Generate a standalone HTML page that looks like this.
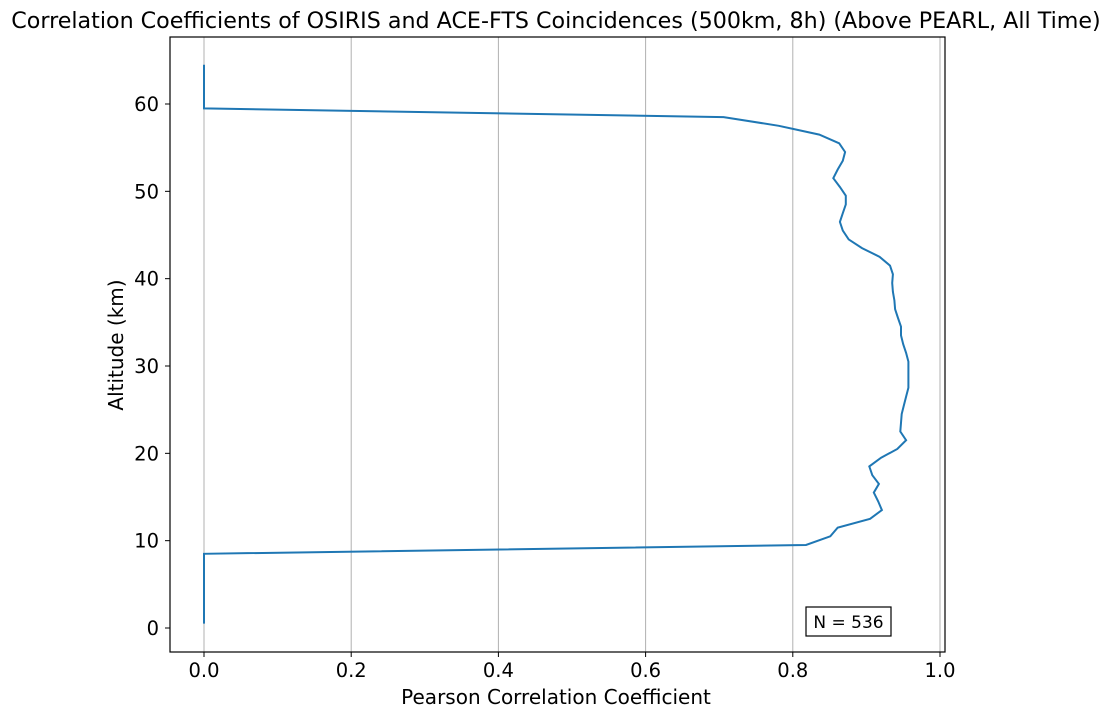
<!DOCTYPE html>
<html><head><meta charset="utf-8"><style>
body{margin:0;background:#fff;}
svg text{font-family:"DejaVu Sans","Liberation Sans",sans-serif;fill:#000;}
</style></head><body>
<svg id="chart" width="1112" height="717">
<rect width="1112" height="717" fill="#fff"/>
<text x="556" y="28" font-size="22.2" text-anchor="middle">Correlation Coefficients of OSIRIS and ACE-FTS Coincidences (500km, 8h) (Above PEARL, All Time)</text>
<g id="grid"></g>
<g id="ticks"></g>
<path id="line" fill="none" stroke="#1f77b4" stroke-width="2"/>
<rect x="170" y="37" width="775" height="615" fill="none" stroke="#000" stroke-width="1.2"/>
<rect x="806" y="607" width="85" height="29" fill="#fff" stroke="#000" stroke-width="1.2"/>
<text x="848.5" y="628" font-size="17" text-anchor="middle">N = 536</text>
<text x="556" y="704" font-size="20" text-anchor="middle">Pearson Correlation Coefficient</text>
<text x="0" y="0" font-size="20" text-anchor="middle" transform="translate(123,345) rotate(-90)">Altitude (km)</text>
</svg>
<script>
const altitudes=[0.5,1.5,2.5,3.5,4.5,5.5,6.5,7.5,8.5,9.5,10.5,11.5,12.5,13.5,14.5,15.5,16.5,17.5,18.5,19.5,20.5,21.5,22.5,23.5,24.5,25.5,26.5,27.5,28.5,29.5,30.5,31.5,32.5,33.5,34.5,35.5,36.5,37.5,38.5,39.5,40.5,41.5,42.5,43.5,44.5,45.5,46.5,47.5,48.5,49.5,50.5,51.5,52.5,53.5,54.5,55.5,56.5,57.5,58.5,59.5,60.5,61.5,62.5,63.5,64.5];
const correlations=[0,0,0,0,0,0,0,0,0,0.818,0.851,0.861,0.905,0.921,0.916,0.910,0.917,0.908,0.904,0.920,0.942,0.954,0.946,0.947,0.948,0.951,0.954,0.957,0.957,0.957,0.957,0.954,0.950,0.947,0.947,0.943,0.939,0.938,0.936,0.935,0.936,0.932,0.918,0.894,0.876,0.868,0.864,0.868,0.872,0.872,0.864,0.855,0.861,0.868,0.871,0.863,0.836,0.781,0.706,0,0,0,0,0,0];
const xTicks=[0,0.2,0.4,0.6,0.8,1.0];
const xTickLabels=["0.0","0.2","0.4","0.6","0.8","1.0"];
const yTicks=[0,10,20,30,40,50,60];
const xs=v=>204+v*736;
const ys=v=>628-v*524/60;
const NS="http://www.w3.org/2000/svg";
const grid=document.getElementById('grid'),ticks=document.getElementById('ticks');
xTicks.forEach((t,i)=>{
  const g=document.createElementNS(NS,'line');
  g.setAttribute('x1',xs(t));g.setAttribute('x2',xs(t));g.setAttribute('y1',37);g.setAttribute('y2',652);
  g.setAttribute('stroke','#b0b0b0');g.setAttribute('stroke-width','1');
  
  
  grid.appendChild(g);
  const tk=document.createElementNS(NS,'line');
  tk.setAttribute('x1',xs(t));tk.setAttribute('x2',xs(t));tk.setAttribute('y1',652);tk.setAttribute('y2',657);
  tk.setAttribute('stroke','#000');
  
  
  ticks.appendChild(tk);
  const tx=document.createElementNS(NS,'text');
  tx.setAttribute('x',xs(t));tx.setAttribute('y',677);tx.setAttribute('font-size','19.5');tx.setAttribute('text-anchor','middle');
  tx.textContent=xTickLabels[i];
  
  
  ticks.appendChild(tx);
});
yTicks.forEach(t=>{
  const tk=document.createElementNS(NS,'line');
  tk.setAttribute('x1',165);tk.setAttribute('x2',170);tk.setAttribute('y1',ys(t));tk.setAttribute('y2',ys(t));
  tk.setAttribute('stroke','#000');
  
  
  ticks.appendChild(tk);
  const tx=document.createElementNS(NS,'text');
  tx.setAttribute('x',159);tx.setAttribute('y',ys(t)+7);tx.setAttribute('font-size','19.5');tx.setAttribute('text-anchor','end');
  tx.textContent=String(t);
  
  
  ticks.appendChild(tx);
});
document.getElementById('line').setAttribute('d',correlations.map((c,i)=>(i?'L':'M')+xs(c).toFixed(1)+','+ys(altitudes[i]).toFixed(1)).join(''));
</script>
</body></html>
